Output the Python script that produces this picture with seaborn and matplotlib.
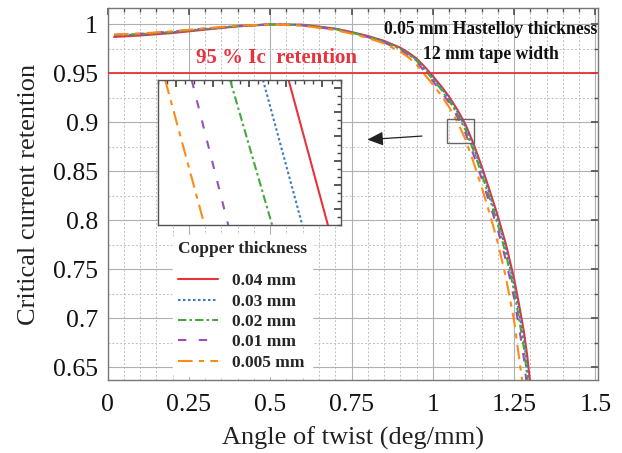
import numpy as np
import pandas as pd
import matplotlib
matplotlib.use("Agg")
import matplotlib.pyplot as plt
from matplotlib.ticker import MultipleLocator, NullFormatter
from matplotlib.patches import Rectangle
import seaborn as sns

sns.set_theme(style="white")
plt.rcParams['font.family'] = ['Liberation Serif', 'DejaVu Serif']
plt.rcParams['mathtext.fontset'] = 'stix'

# ---------------- data ----------------
angle = [0.02, 0.1, 0.2, 0.3, 0.4, 0.5, 0.6, 0.7, 0.75, 0.8, 0.85, 0.9, 0.925,
         0.95, 0.975, 1.0, 1.025, 1.05, 1.075, 1.1, 1.125, 1.15, 1.175, 1.2,
         1.225, 1.25, 1.265, 1.28, 1.29, 1.3]
cu_004 = [0.987, 0.9885, 0.991, 0.9945, 0.9978, 0.9998, 0.9995, 0.9955, 0.992,
          0.988, 0.983, 0.976, 0.971, 0.965, 0.9565, 0.947, 0.937, 0.926, 0.913,
          0.898, 0.878, 0.855, 0.830, 0.804, 0.775, 0.740, 0.714, 0.686, 0.662,
          0.632]
cu_003 = [0.9885, 0.9895, 0.9918, 0.995, 0.998, 0.9998, 0.9993, 0.9953, 0.9917,
          0.9876, 0.9825, 0.9753, 0.9701, 0.9638, 0.9551, 0.9454, 0.9353, 0.9241,
          0.9108, 0.8952, 0.8746, 0.8512, 0.8259, 0.7996, 0.7699, 0.7338, 0.7068,
          0.6776, 0.6516, 0.620]
cu_002 = [0.989, 0.990, 0.9922, 0.9953, 0.9982, 0.9998, 0.999, 0.9949, 0.9914,
          0.9873, 0.982, 0.9746, 0.9692, 0.9627, 0.9536, 0.9439, 0.9336, 0.9222,
          0.9085, 0.8924, 0.8711, 0.8473, 0.8218, 0.7952, 0.7648, 0.7276, 0.6996,
          0.6692, 0.6412, 0.608]
cu_001 = [0.989, 0.9903, 0.9925, 0.9955, 0.9983, 0.9998, 0.9988, 0.9946, 0.991,
          0.9868, 0.9814, 0.9737, 0.9681, 0.9612, 0.9518, 0.9419, 0.9315, 0.9198,
          0.9057, 0.8889, 0.8668, 0.8425, 0.8167, 0.7897, 0.7584, 0.7199, 0.6906,
          0.6587, 0.628, 0.593]
cu_0005 = [0.9895, 0.9905, 0.9928, 0.9958, 0.9985, 0.9998, 0.9985, 0.994, 0.9903,
           0.986, 0.9804, 0.972, 0.9662, 0.9586, 0.9486, 0.9384, 0.9278, 0.9154,
           0.9007, 0.8826, 0.8591, 0.8339, 0.8063, 0.7765, 0.7409, 0.6966, 0.660,
           0.623, 0.584, 0.540]

labels = ["0.04 mm", "0.03 mm", "0.02 mm", "0.01 mm", "0.005 mm"]
series = [cu_004, cu_003, cu_002, cu_001, cu_0005]
colors = ["#e8323c", "#3a7cc2", "#45a83a", "#9a4fb8", "#ff8a14"]
dashes = [(None, None), (1.2, 1.2), (4, 1.5, 1.2, 1.5), (4, 6), (7, 3, 2.5, 3)]

# inset (zoomed) data: line end points of each series inside the zoom window
inset_y = [0.8966, 0.8930]
inset_x = {
    "0.04 mm": [1.1043, 1.1086],
    "0.03 mm": [1.1015, 1.1058],
    "0.02 mm": [1.0979, 1.1025],
    "0.01 mm": [1.0937, 1.0977],
    "0.005 mm": [1.0908, 1.0951],
}

retention_level = 0.95

# ---------------- figure ----------------
fig = plt.figure(figsize=(6.22, 4.53), dpi=100)
ax = fig.add_axes([0.173, 0.161, 0.788, 0.821])

for lab, ys, c, d in zip(labels, series, colors, dashes):
    df = pd.DataFrame({"x": angle, "y": ys})
    sns.lineplot(data=df, x="x", y="y", ax=ax, color=c, lw=1.5, label=lab,
                 sort=False)
    ln = ax.get_lines()[-1]
    if d[0] is not None:
        ln.set_dashes(d)

ax.axhline(retention_level, color="#e8323c", lw=1.3, zorder=3)

ax.set_xlim(0, 1.507)
ax.set_ylim(0.6367, 1.0164)
ax.xaxis.set_minor_locator(MultipleLocator(0.05))
ax.yaxis.set_minor_locator(MultipleLocator(0.025))
ax.set_xticks([0, 0.25, 0.5, 0.75, 1, 1.25, 1.5])
ax.set_xticklabels(["0", "0.25", "0.5", "0.75", "1", "1.25", "1.5"])
ax.set_yticks([0.65, 0.7, 0.75, 0.8, 0.85, 0.9, 0.95, 1.0])
ax.set_yticklabels(["0.65", "0.7", "0.75", "0.8", "0.85", "0.9", "0.95", "1"])
ax.grid(which="major", color="#b0b0b0", lw=0.8, ls="-")
ax.grid(which="minor", color="#c0c0c0", lw=0.7, ls=(0, (2, 2)))
ax.tick_params(which="both", direction="in", top=True, right=True,
               colors="#555555", labelcolor="#111111", labelsize=18.5)
ax.tick_params(axis="x", pad=10)
ax.tick_params(axis="y", pad=7)
ax.tick_params(which="major", length=5)
ax.tick_params(which="minor", length=3)
for s in ax.spines.values():
    s.set_color("#777777")
    s.set_linewidth(1.0)

ax.set_xlabel("Angle of twist (deg/mm)", fontsize=19, color="#222222", labelpad=8)
ax.set_ylabel("Critical current retention", fontsize=19, color="#222222", labelpad=9)

ax.text(0.52, 0.9655, "95 % Ic  retention", color="#e8323c", fontsize=15,
        fontweight="bold", ha="center", va="center")
ax.text(1.178, 0.9945, "0.05 mm Hastelloy thickness", fontsize=12.7,
        fontweight="bold", ha="center", va="center", color="#111111")
ax.text(1.18, 0.969, "12 mm tape width", fontsize=12.7,
        fontweight="bold", ha="center", va="center", color="#111111")

# zoom rectangle and arrow
ax.add_patch(Rectangle((1.043, 0.879), 0.083, 0.024, fill=False,
                       ec="#666666", lw=1.0, zorder=5))
ax.annotate("", xy=(0.79, 0.882), xytext=(0.975, 0.886),
            arrowprops=dict(arrowstyle="-|>,head_length=0.8,head_width=0.35",
                            color="#222222", lw=0.9), zorder=6)

# legend
leg = ax.legend(title="Copper thickness", loc="lower left",
                bbox_to_anchor=(0.115, -0.012), frameon=True, framealpha=1,
                facecolor="white", edgecolor="white", handlelength=2.3,
                handletextpad=0.8, labelspacing=0.24, borderpad=0.3,
                prop={"weight": "bold", "size": 12.5},
                title_fontproperties={"weight": "bold", "size": 12.5})
leg._legend_box.align = "left"
leg._legend_box.sep = 12
for h in leg.get_lines():
    h.set_linewidth(1.5)

# inset
axin = ax.inset_axes([0.1026, 0.4167, 0.373, 0.39])
axin.set_facecolor("white")
for lab, c, d in zip(labels, colors, dashes):
    dfi = pd.DataFrame({"x": inset_x[lab], "y": inset_y})
    sns.lineplot(data=dfi, x="x", y="y", ax=axin, color=c, lw=1.5, sort=False,
                 legend=False)
    ln = axin.get_lines()[-1]
    if d[0] is not None:
        ln.set_dashes(d)
axin.set_xlim(1.09, 1.11)
axin.set_ylim(0.893, 0.8966)
axin.xaxis.set_major_locator(MultipleLocator(0.004))
axin.xaxis.set_minor_locator(MultipleLocator(0.001))
axin.yaxis.set_major_locator(MultipleLocator(0.0006))
axin.yaxis.set_minor_locator(MultipleLocator(0.0002))
axin.xaxis.set_major_formatter(NullFormatter())
axin.yaxis.set_major_formatter(NullFormatter())
axin.set_xlabel("")
axin.set_ylabel("")
axin.tick_params(which="both", direction="in", top=True, right=True,
                 colors="#444444")
axin.tick_params(which="major", length=5)
axin.tick_params(which="minor", length=3)
for s in axin.spines.values():
    s.set_color("#555555")
    s.set_linewidth(1.0)

fig.savefig("out.png", dpi=100)
